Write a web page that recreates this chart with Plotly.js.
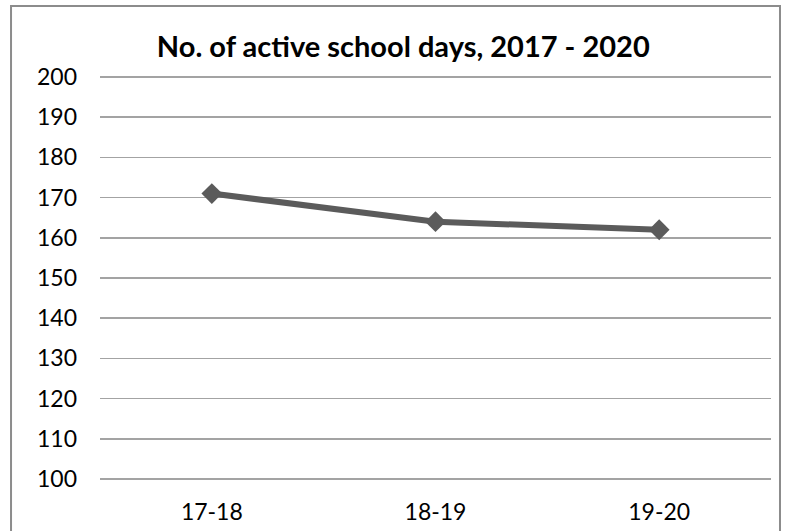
<!DOCTYPE html>
<html>
<head>
<meta charset="utf-8">
<script src="https://cdn.plot.ly/plotly-3.0.1.min.js"></script>
<style>html,body{margin:0;padding:0;background:#fff;}#chart{width:799px;height:531px;}</style>
</head>
<body>
<div id="chart"></div>
<script>
const categories = ["17-18", "18-19", "19-20"];
const activeDays = [171, 164, 162];
const yTicks = [100, 110, 120, 130, 140, 150, 160, 170, 180, 190, 200];
const chartTitle = "No. of active school days, 2017 - 2020";

const trace = {
  x: categories,
  y: activeDays,
  type: "scatter",
  mode: "lines+markers",
  line: {color: "#5b5b5b", width: 6},
  marker: {symbol: "diamond", size: 16, color: "#5b5b5b"},
  hoverinfo: "skip",
  showlegend: false
};

const layout = {
  width: 799, height: 531,
  margin: {l: 100, r: 28, t: 75, b: 50},
  paper_bgcolor: "#fff", plot_bgcolor: "#fff",
  font: {family: "Lato, 'Liberation Sans', sans-serif", color: "#000", size: 23},
  title: {
    text: "<b>" + chartTitle + "</b>",
    font: {family: "Lato, 'Liberation Sans', sans-serif", size: 29, color: "#000"},
    x: 0.452, xanchor: "center", xref: "paper",
    y: 0.912, yanchor: "middle", yref: "container"
  },
  xaxis: {
    type: "category",
    range: [-0.5, 2.5],
    showgrid: false, zeroline: false, showline: false,
    ticks: "", ticklabelstandoff: 15,
    tickfont: {size: 23}
  },
  yaxis: {
    range: [99.5, 200.5],
    tickvals: yTicks,
    showgrid: true, gridcolor: "#a3a3a3", gridwidth: 1.5,
    zeroline: false, showline: false,
    ticks: "", ticklabelstandoff: 22,
    tickfont: {size: 23}
  },
  shapes: [{
    type: "rect", xref: "paper", yref: "paper",
    x0: -0.1326, x1: 1.0134, y0: -0.3, y1: 1.17,
    line: {color: "#8c8c8c", width: 2}, fillcolor: "rgba(0,0,0,0)", layer: "below"
  }]
};

Plotly.newPlot("chart", [trace], layout, {displayModeBar: false, staticPlot: true});
</script>
</body>
</html>
